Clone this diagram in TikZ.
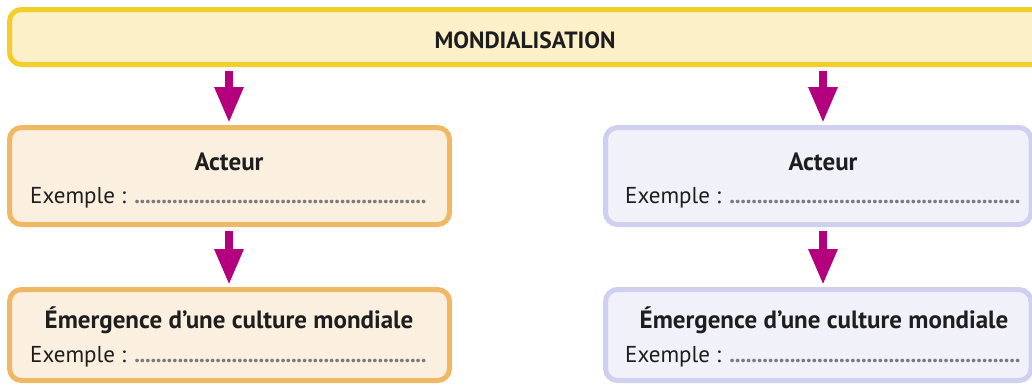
\documentclass[tikz,border=0pt]{standalone}
\usepackage{fontspec}
\setmainfont{PT Sans}
\usetikzlibrary{arrows.meta}
\definecolor{ybord}{HTML}{F2CE2A}
\definecolor{yfill}{HTML}{FCF0C8}
\definecolor{obord}{HTML}{EFB865}
\definecolor{ofill}{HTML}{FBF0DF}
\definecolor{lbord}{HTML}{CFCFF0}
\definecolor{lfill}{HTML}{F1F1FA}
\definecolor{arrmag}{HTML}{B4007E}
\definecolor{txt}{HTML}{1E1E1E}
\definecolor{dotg}{HTML}{7A7A7A}
\newcommand{\dotline}[1]{\textcolor{dotg}{\bfseries\hbox to #1{\xleaders\hbox to 5.4pt{\hss.\hss}\hfill}}}
\begin{document}
\begin{tikzpicture}[x=1pt,y=-1pt,
 box/.style={draw, line width=5pt, rounded corners=12pt, inner sep=0pt},
 ybox/.style={box, draw=ybord, fill=yfill},
 obox/.style={box, draw=obord, fill=ofill},
 lbox/.style={box, draw=lbord, fill=lfill},
 ttl/.style={font=\fontsize{25}{30}\selectfont\bfseries, text=txt, anchor=base, inner sep=0pt},
 ex/.style={font=\fontsize{23}{28}\selectfont, text=txt, anchor=base west, inner sep=0pt},
 arr/.style={line width=8.5pt, draw=arrmag, -{Triangle[width=27pt,length=36pt]}},
 arrshadow/.style={line width=8.5pt, draw=black, opacity=0.15, -{Triangle[width=27pt,length=36pt]}},
 ]
\useasboundingbox (0,0) rectangle (1032,384);
\clip (0,0) rectangle (1032,384);
\node[ybox, minimum width=1060pt, minimum height=55pt] (top) at (539.5,37) {};
\node[ttl, font=\fontsize{23.5}{28}\selectfont\bfseries] (mondial) at (525,48) {MONDIALISATION};
\node[obox, minimum width=440pt, minimum height=97pt] (ml) at (229.5,176) {};
\node[lbox, minimum width=425.5pt, minimum height=97pt] (mr) at (818.25,176) {};
\node[obox, minimum width=440pt, minimum height=91pt] (bl) at (229.5,335) {};
\node[lbox, minimum width=425.5pt, minimum height=91pt] (br) at (818.25,335) {};
\coordinate (cL) at (229,0);
\coordinate (cR) at (823,0);
\node[ttl] (tml) at (229,170) {Acteur};
\node[ex] (eml) at (30,203) {Exemple : \dotline{292pt}};
\node[ttl] (tmr) at (823,170) {Acteur};
\node[ex] (emr) at (625,203) {Exemple : \dotline{291pt}};
\node[ttl] (tbl) at (229,328) {Émergence d’une culture mondiale};
\node[ex] (ebl) at (30,362) {Exemple : \dotline{292pt}};
\node[ttl] (tbr) at (824,328) {Émergence d’une culture mondiale};
\node[ex] (ebr) at (625,362) {Exemple : \dotline{291pt}};
% arrows
\begin{scope}[shift={(3.5,2.5)}]
\draw[arrshadow, shorten <=4pt, shorten >=2pt] (cL |- top.south) -- (cL |- ml.north);
\draw[arrshadow, shorten <=4pt, shorten >=2pt] (cR |- top.south) -- (cR |- mr.north);
\draw[arrshadow, shorten <=4pt, shorten >=2pt] (cL |- ml.south) -- (cL |- bl.north);
\draw[arrshadow, shorten <=4pt, shorten >=2pt] (cR |- mr.south) -- (cR |- br.north);
\end{scope}
\draw[arr, shorten <=4pt, shorten >=2pt] (cL |- top.south) -- (cL |- ml.north);
\draw[arr, shorten <=4pt, shorten >=2pt] (cR |- top.south) -- (cR |- mr.north);
\draw[arr, shorten <=4pt, shorten >=2pt] (cL |- ml.south) -- (cL |- bl.north);
\draw[arr, shorten <=4pt, shorten >=2pt] (cR |- mr.south) -- (cR |- br.north);
\end{tikzpicture}
\end{document}
